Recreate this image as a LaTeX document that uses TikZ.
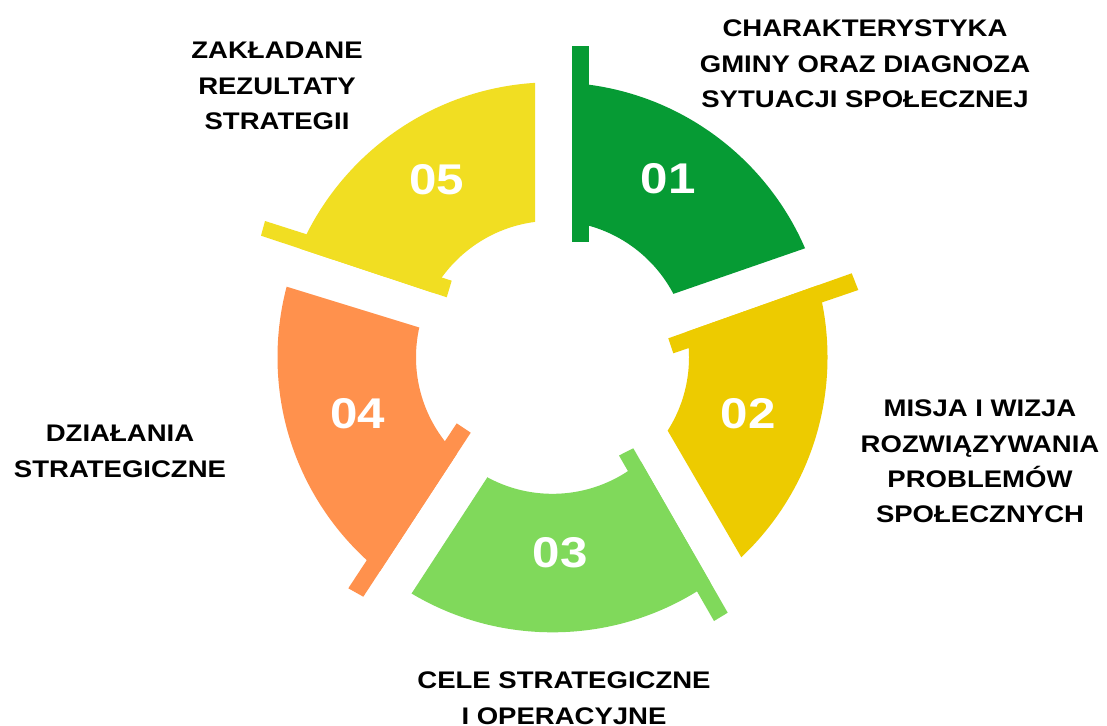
\documentclass[tikz,border=0pt]{standalone}
\usepackage{fontspec}
\usetikzlibrary{calc}
\newfontfamily\lblfont{Liberation Sans}[FakeStretch=1.147]
\definecolor{cA}{HTML}{069B34}
\definecolor{cB}{HTML}{EDCB00}
\definecolor{cC}{HTML}{80D95B}
\definecolor{cD}{HTML}{FF914D}
\definecolor{cE}{HTML}{F1DE22}
\newcommand{\ringseg}[2]{%
  \begin{scope}
    \clip ($(#1so)!1.3!(#1si)$) -- ($(#1si)!1.5!(#1so)$) -- (#1m) -- ($(#1ei)!1.6!(#1eo)$) -- ($(#1eo)!1.4!(#1ei)$) -- cycle;
    \fill[#2, even odd rule] (C) circle[radius=275pt] (C) circle[radius=136.5pt];
  \end{scope}
  \fill[#2] (#1ta) -- (#1tb) -- (#1tc) -- (#1td) -- cycle;
}
\tikzset{
  lbl/.style={font=\lblfont\bfseries\fontsize{24pt}{35.3pt}\selectfont, align=center, inner sep=0pt, anchor=north, text=black},
  num/.style={font=\lblfont\bfseries\fontsize{43pt}{43pt}\selectfont, inner sep=0pt, anchor=center, text=white}
}
\begin{document}
\begin{tikzpicture}[x=1pt,y=-1pt]
\fill[white] (0,0) rectangle (1107,725);
\useasboundingbox (0,0) rectangle (1107,725);
\coordinate (C) at (552.5,357.3);
% segment 01
\coordinate (asi) at (572,242);   \coordinate (aso) at (572,46);
\coordinate (aei) at (675,293.3); \coordinate (aeo) at (805,248.3);
\coordinate (am) at (964,-209);
\coordinate (ata) at (572,46); \coordinate (atb) at (589,46); \coordinate (atc) at (589,242); \coordinate (atd) at (572,242);
% segment 02
\coordinate (bsi) at (668.3,338.3); \coordinate (bso) at (851.7,273.3);
\coordinate (bei) at (668.3,431.7); \coordinate (beo) at (740,555);
\coordinate (bm) at (1218,573.6);
\coordinate (bta) at (668.3,338.3); \coordinate (btb) at (851.7,273.3); \coordinate (btc) at (858.3,290); \coordinate (btd) at (673.3,353.3);
% segment 03
\coordinate (csi) at (633.3,448.3); \coordinate (cso) at (727.7,612.7);
\coordinate (cei) at (486.7,478.3); \coordinate (ceo) at (411.7,593.3);
\coordinate (cm) at (552.5,1057);
\coordinate (cta) at (633.3,448.3); \coordinate (ctb) at (727.7,612.7); \coordinate (ctc) at (714,621); \coordinate (ctd) at (619,455.5);
% segment 04
\coordinate (dsi) at (470.7,432.7); \coordinate (dso) at (363.3,596.7);
\coordinate (dei) at (416.7,326.7); \coordinate (deo) at (286.7,286.7);
\coordinate (dm) at (-113,573.6);
\coordinate (dta) at (470.7,432.7); \coordinate (dtb) at (363.3,596.7); \coordinate (dtc) at (348.3,588.3); \coordinate (dtd) at (456.7,423.3);
% segment 05
\coordinate (esi) at (446.7,297.3); \coordinate (eso) at (261,235.7);
\coordinate (eei) at (535,221.9); \coordinate (eeo) at (535,82.9);
\coordinate (em) at (141,-209);
\coordinate (eta) at (446.7,297.3); \coordinate (etb) at (261,235.7); \coordinate (etc) at (265,221); \coordinate (etd) at (451.7,280.7);
\ringseg{a}{cA}
\ringseg{b}{cB}
\ringseg{c}{cC}
\ringseg{d}{cD}
\ringseg{e}{cE}
% numbers
\node[num] (n1) at (668,179) {01};
\node[num] (n2) at (748,414) {02};
\node[num] (n3) at (560,553) {03};
\node[num] (n4) at (358,414) {04};
\node[num] (n5) at (437,180) {05};
% labels
\node[lbl] (l1) at (865,20) {CHARAKTERYSTYKA\\GMINY ORAZ DIAGNOZA\\SYTUACJI SPOŁECZNEJ};
\node[lbl] (l2) at (980,400) {MISJA I WIZJA\\ROZWIĄZYWANIA\\PROBLEMÓW\\SPOŁECZNYCH};
\node[lbl] (l3) at (564,672) {CELE STRATEGICZNE\\I OPERACYJNE};
\node[lbl] (l4) at (120,425) {DZIAŁANIA\\STRATEGICZNE};
\node[lbl] (l5) at (277,42) {ZAKŁADANE\\REZULTATY\\STRATEGII};
\end{tikzpicture}
\end{document}
